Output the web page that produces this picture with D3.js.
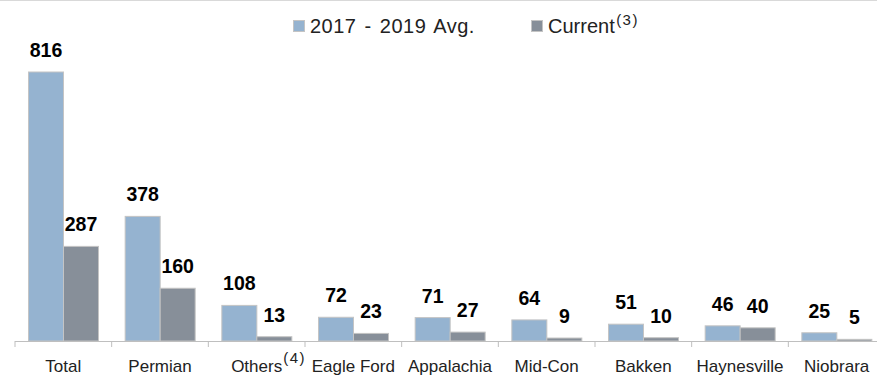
<!DOCTYPE html>
<html>
<head>
<meta charset="utf-8">
<script src="https://cdn.jsdelivr.net/npm/d3@7"></script>
<style>
  body { margin: 0; background: #fff; }
  text { font-family: "Liberation Sans", Arial, sans-serif; }
</style>
</head>
<body>
<div id="chart-area"></div>
<script>
// regions and their footnote marks
var categories = ["Total", "Permian", "Others", "Eagle Ford", "Appalachia", "Mid-Con", "Bakken", "Haynesville", "Niobrara"];
var categoryNotes = ["", "", "(4)", "", "", "", "", "", ""];

var seriesNames = ["2017 - 2019 Avg.", "Current"];
var seriesNotes = ["", "(3)"];
var avgValues = [816, 378, 108, 72, 71, 64, 51, 46, 25];
var currentValues = [287, 160, 13, 23, 27, 9, 10, 40, 5];

var colors = ["#95b3d0", "#878f99"];

var width = 877, height = 377;
var baseY = 341;

var svg = d3.select("#chart-area").append("svg")
    .attr("width", width)
    .attr("height", height);

// thin rule on top
svg.append("line")
    .attr("x1", 0).attr("x2", width)
    .attr("y1", 0.5).attr("y2", 0.5)
    .attr("stroke", "#d9d9d9");

var x0 = d3.scaleBand().domain(categories).range([15, 885]);
var x1 = d3.scaleBand().domain(seriesNames).range([13.5, 83.5]);
var y = d3.scaleLinear().domain([0, 900]).range([baseY, 44.3]);

var rows = categories.map(function(c, i) {
    return {cat: c, vals: [avgValues[i], currentValues[i]]};
});

var groups = svg.selectAll("g.cat")
    .data(rows)
    .enter().append("g")
    .attr("class", "cat")
    .attr("transform", function(d) { return "translate(" + x0(d.cat) + ",0)"; });

var bars = groups.selectAll("g.bar")
    .data(function(d) {
        return d.vals.map(function(v, k) { return {name: seriesNames[k], v: v, k: k}; });
    })
    .enter().append("g");

bars.append("rect")
    .attr("x", function(d) { return x1(d.name); })
    .attr("width", x1.bandwidth())
    .attr("y", function(d) { return y(d.v); })
    .attr("height", function(d) { return baseY - y(d.v); })
    .attr("fill", function(d) { return colors[d.k]; })
    .attr("stroke", "#c4c4c4")
    .attr("stroke-width", 1);

bars.append("text")
    .attr("x", function(d) { return x1(d.name) + x1.bandwidth() / 2; })
    .attr("y", function(d) { return y(d.v) - 15; })
    .attr("text-anchor", "middle")
    .attr("font-size", 19.5)
    .attr("font-weight", "bold")
    .attr("fill", "#000")
    .text(function(d) { return d.v; });

// x axis
var axis = svg.append("g")
    .attr("transform", "translate(0," + baseY + ")")
    .call(d3.axisBottom(x0).tickSize(0).tickFormat(""));
axis.select(".domain").attr("stroke", "#bfbfbf").attr("d", "M15,0.5H" + width);

var tickPos = d3.range(categories.length + 1).map(function(i) { return 15 + i * x0.step(); });
svg.selectAll("line.tk")
    .data(tickPos)
    .enter().append("line")
    .attr("class", "tk")
    .attr("x1", function(d) { return d; })
    .attr("x2", function(d) { return d; })
    .attr("y1", baseY)
    .attr("y2", baseY + 6)
    .attr("stroke", "#bfbfbf");

var catLabels = svg.selectAll("g.cl")
    .data(categories)
    .enter().append("g")
    .attr("class", "cl");

catLabels.append("text")
    .attr("x", function(d) { return x0(d) + x0.bandwidth() / 2; })
    .attr("y", 372)
    .attr("text-anchor", "middle")
    .attr("font-size", 17)
    .attr("fill", "#222")
    .text(function(d) { return d; });

catLabels.each(function(d, i) {
    if (!categoryNotes[i]) return;
    var t = d3.select(this).select("text").node();
    var bb = t.getBBox();
    d3.select(this).append("text")
        .attr("x", bb.x + bb.width + 1)
        .attr("y", 363)
        .attr("font-size", 15)
        .attr("letter-spacing", 1.5)
        .attr("fill", "#222")
        .text(categoryNotes[i]);
});

// legend
var legendX = [293, 531];
var legend = svg.selectAll("g.lg")
    .data(seriesNames)
    .enter().append("g")
    .attr("class", "lg")
    .attr("transform", function(d, i) { return "translate(" + legendX[i] + ",0)"; });

legend.append("rect")
    .attr("x", 0.5).attr("y", 20.5)
    .attr("width", 11).attr("height", 11)
    .attr("fill", function(d, i) { return colors[i]; })
    .attr("stroke", "#c4c4c4");

legend.append("text")
    .attr("class", "lt")
    .attr("x", 17)
    .attr("y", 33)
    .attr("font-size", 20)
    .attr("letter-spacing", function(d, i) { return i === 0 ? 0.5 : 0; })
    .attr("word-spacing", 2)
    .attr("fill", "#222")
    .text(function(d) { return d; });

legend.each(function(d, i) {
    if (!seriesNotes[i]) return;
    var bb = d3.select(this).select("text.lt").node().getBBox();
    d3.select(this).append("text")
        .attr("x", bb.x + bb.width + 1)
        .attr("y", 25)
        .attr("font-size", 15)
        .attr("letter-spacing", 1.5)
        .attr("fill", "#222")
        .text(seriesNotes[i]);
});
</script>
</body>
</html>
